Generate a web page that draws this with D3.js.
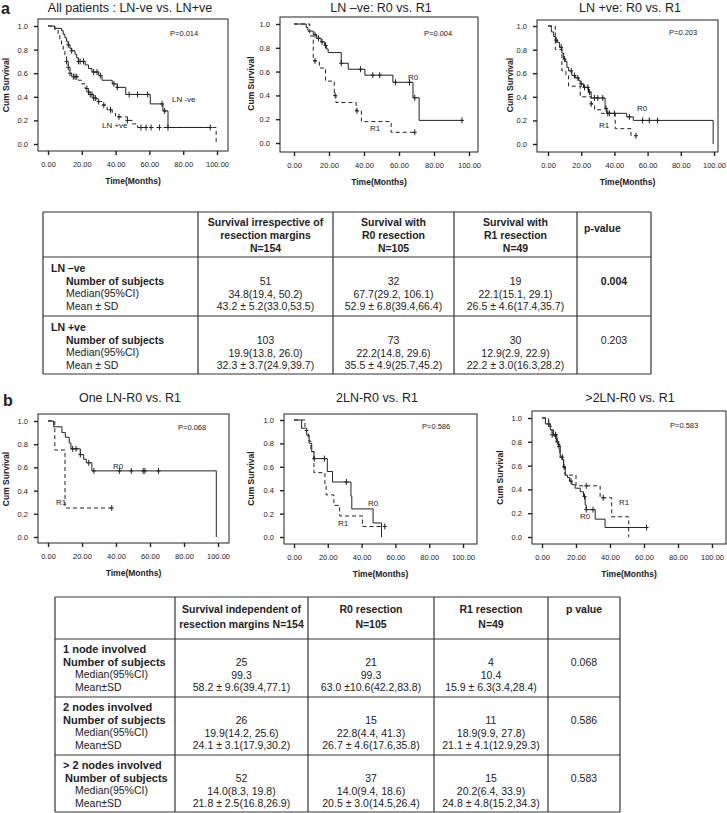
<!DOCTYPE html>
<html>
<head>
<meta charset="utf-8">
<script src="https://cdn.jsdelivr.net/npm/d3@7"></script>
<style>
  body { margin: 0; background: #fff; }
  text { font-family: "Liberation Sans", Arial, sans-serif; fill: #222; }
</style>
</head>
<body>
<div id="figure"></div>
<script>
// ---- survival curves, [time (months), cum survival] at each step ----
const a1NegSteps = [[0,1],[4,0.98],[8,0.96],[9,0.93],[10,0.90],[11,0.87],[12,0.84],[13,0.81],[14,0.79],[16,0.76],[17,0.73],[18,0.70],[22,0.67],[24,0.64],[26,0.61],[30,0.58],[32,0.54],[38,0.51],[41,0.48],[46,0.42],[60.5,0.34],[68,0.28],[71,0.14],[96,0.14]];
const a1NegCens = [12,14,18,19,21,27,29,31,39,41,48,53,59,67.5,69,96];
const a1PosSteps = [[0,1],[4,0.97],[6,0.93],[7,0.88],[8,0.84],[9,0.80],[10,0.75],[11,0.70],[12,0.65],[13,0.60],[14,0.57],[18,0.54],[20,0.51],[22,0.47],[24,0.44],[25,0.42],[27,0.39],[29,0.36],[32,0.33],[35,0.29],[38,0.26],[40,0.23],[47,0.20],[50,0.17],[53,0.14],[99.5,0]];
const a1PosCens = [11,12,13,15,16,17,23,24,25,26,27,28,30,33,37,42,47,55,58,61,66,71];

const a2R0Steps = [[0,1],[7,0.97],[8,0.94],[11,0.91],[13,0.88],[15.5,0.85],[17.5,0.82],[18.5,0.79],[19.5,0.76],[27,0.67],[31,0.62],[40.5,0.57],[56.5,0.51],[68,0.38],[71.5,0.19],[96,0.19]];
const a2R0Cens = [12,14,16,18,27,38,45,49,58,66,69,96];
const a2R1Steps = [[0,1],[9,0.90],[11,0.69],[14.5,0.63],[18,0.52],[23,0.40],[24,0.34],[35.5,0.27],[38.5,0.18],[55.5,0.09],[69,0.09]];
const a2R1Cens = [12,23.5,36,69];

const a3R0Steps = [[0,1],[2,0.95],[3.4,0.91],[4.4,0.88],[5.8,0.86],[7,0.82],[8.4,0.77],[9.4,0.72],[10.4,0.70],[11.4,0.65],[12.4,0.62],[14.4,0.58],[16.4,0.56],[18.4,0.54],[19.4,0.51],[21.4,0.48],[24.4,0.44],[26,0.39],[34.4,0.30],[35.4,0.26],[47.4,0.23],[51.4,0.20],[99.5,0]];
const a3R0Cens = [5,8,10,14,16,18,20,22,24,25,28,30,33,35,36,37,40,49,57,61,66];
const a3R1Steps = [[0,1],[4.4,0.80],[8.4,0.62],[10.8,0.58],[12.4,0.49],[19.4,0.40],[26,0.34],[28,0.29],[32,0.26],[40.5,0.13],[50,0.07],[53,0.07]];
const a3R1Cens = [26,53];

const b1R0Steps = [[0,1],[3.3,0.95],[8.2,0.90],[10.2,0.86],[12.5,0.81],[13.5,0.76],[19,0.71],[21,0.67],[22.5,0.64],[25.8,0.57],[99,0]];
const b1R0Cens = [14.5,16.5,19,24,27,42,49,56,57,65];
const b1R1Steps = [[0,1],[4,0.75],[10,0.25],[37.5,0.25]];
const b1R1Cens = [37.5];

const b2R0Steps = [[0,1],[4.5,0.93],[7.5,0.87],[9,0.80],[10.5,0.73],[11.8,0.67],[19.7,0.56],[22.8,0.47],[33.7,0.35],[34.2,0.24],[46.8,0.12],[51.8,0]];
const b2R0Cens = [12,18,31];
const b2R1Steps = [[0,1],[6.5,0.91],[8.5,0.82],[10,0.73],[11.8,0.55],[18.3,0.45],[19,0.36],[23.6,0.27],[27,0.18],[40.5,0.09],[53.7,0.09]];
const b2R1Cens = [53.7];

const b3R0Steps = [[0,1],[2,0.95],[4.9,0.90],[6.8,0.85],[8.4,0.80],[9.8,0.76],[10.7,0.68],[11.7,0.65],[12.7,0.59],[13.7,0.52],[15,0.50],[16.2,0.47],[17.6,0.44],[19.5,0.41],[22.5,0.38],[24.4,0.34],[25.4,0.27],[26,0.23],[31.3,0.15],[37.1,0.08],[61.5,0.08]];
const b3R0Cens = [4,8,9,10,13,17,25,26,30,61.5];
const b3R1Steps = [[0,1],[3.9,0.93],[5.9,0.86],[9,0.78],[10.5,0.67],[12.7,0.58],[13.5,0.52],[20,0.43],[34.2,0.33],[41,0.17],[51,0]];
const b3R1Cens = [6,8,12,26,36];

// ---- axis ticks and titles ----
const xTicks = [0,20,40,60,80,100];
const yTicks = [0,0.2,0.4,0.6,0.8,1.0];
const plotTitles = ["All patients : LN-ve vs. LN+ve", "LN \u2013ve: R0 vs. R1", "LN +ve: R0 vs. R1",
                    "One LN-R0 vs. R1", "2LN-R0 vs. R1", ">2LN-R0 vs. R1"];
const pValues = ["P=0.014", "P=0.004", "P=0.203", "P=0.068", "P=0.586", "P=0.583"];

// ---- table 1 ----
const t1Header = [["Survival irrespective of","resection margins","N=154"],["Survival with","R0 resection","N=105"],["Survival with","R1 resection","N=49"]];
const t1Groups = ["LN \u2013ve", "LN +ve"];
const t1Values = [
  [["51","34.8(19.4, 50.2)","43.2 \u00b1 5.2(33.0,53.5)"],["32","67.7(29.2, 106.1)","52.9 \u00b1 6.8(39.4,66.4)"],["19","22.1(15.1, 29.1)","26.5 \u00b1 4.6(17.4,35.7)"]],
  [["103","19.9(13.8, 26.0)","32.3 \u00b1 3.7(24.9,39.7)"],["73","22.2(14.8, 29.6)","35.5 \u00b1 4.9(25.7,45.2)"],["30","12.9(2.9, 22.9)","22.2 \u00b1 3.0(16.3,28.2)"]]
];
const t1P = ["0.004", "0.203"];

// ---- table 2 ----
const t2Header = [["Survival independent of","resection margins N=154"],["R0 resection","N=105"],["R1 resection","N=49"]];
const t2Groups = ["1 node involved", "2 nodes involved", "> 2 nodes involved"];
const t2Values = [
  [["25","99.3","58.2 \u00b1 9.6(39.4,77.1)"],["21","99.3","63.0 \u00b110.6(42.2,83.8)"],["4","10.4","15.9 \u00b1 6.3(3.4,28.4)"]],
  [["26","19.9(14.2, 25.6)","24.1 \u00b1 3.1(17.9,30.2)"],["15","22.8(4.4, 41.3)","26.7 \u00b1 4.6(17.6,35.8)"],["11","18.9(9.9, 27.8)","21.1 \u00b1 4.1(12.9,29.3)"]],
  [["52","14.0(8.3, 19.8)","21.8 \u00b1 2.5(16.8,26.9)"],["37","14.0(9.4, 18.6)","20.5 \u00b1 3.0(14.5,26.4)"],["15","20.2(6.4, 33.9)","24.8 \u00b1 4.8(15.2,34.3)"]]
];
const t2P = ["0.068", "0.586", "0.583"];

const width = 727;
const height = 813;

const svg = d3.select("#figure")
  .append("svg")
  .attr("width", width)
  .attr("height", height);

// step level at time t (censor marks sit on the curve)
function levelAt(steps, t) {
  let s = steps[0][1];
  for (const p of steps) { if (p[0] <= t) s = p[1]; }
  return s;
}

function drawKM(cfg, i) {
  const x = d3.scaleLinear().domain([0, 100]).range([cfg.x0, cfg.x100]);
  const y = d3.scaleLinear().domain([0, 1]).range([cfg.y0, cfg.y1]);
  const g = svg.append("g");

  g.append("text")
    .attr("x", cfg.titleX).attr("y", cfg.titleY)
    .attr("text-anchor", "middle")
    .style("font-size", "12.5px")
    .text(plotTitles[i]);

  g.append("rect")
    .attr("x", cfg.left).attr("y", cfg.top)
    .attr("width", cfg.right - cfg.left).attr("height", cfg.bottom - cfg.top)
    .attr("fill", "none").attr("stroke", "#222").attr("stroke-width", 1);

  const yAxis = g.append("g")
    .attr("transform", `translate(${cfg.left},0)`)
    .call(d3.axisLeft(y).tickValues(yTicks).tickFormat(d3.format(".1f")).tickSize(4).tickPadding(6));
  const xAxis = g.append("g")
    .attr("transform", `translate(0,${cfg.bottom})`)
    .call(d3.axisBottom(x).tickValues(xTicks).tickFormat(d3.format(".2f")).tickSize(4).tickPadding(7));
  [yAxis, xAxis].forEach(a => {
    a.select(".domain").remove();
    a.selectAll("line").attr("stroke", "#222").attr("stroke-width", 1.4);
    a.selectAll("text").style("font-size", "7.5px").style("font-family", "Liberation Sans, Arial").attr("fill", "#222");
  });

  g.append("text")
    .attr("x", (cfg.left + cfg.right) / 2).attr("y", cfg.bottom + 33)
    .attr("text-anchor", "middle")
    .style("font-size", "8.5px").style("font-weight", "bold")
    .text("Time(Months)");

  g.append("text")
    .attr("transform", `translate(${cfg.left - cfg.ylabOff},${(cfg.y0 + cfg.y1) / 2}) rotate(-90)`)
    .attr("text-anchor", "middle")
    .style("font-size", "8.5px").style("font-weight", "bold")
    .text("Cum Survival");

  g.append("text")
    .attr("x", cfg.pX).attr("y", cfg.pY)
    .style("font-size", "7.5px")
    .text(pValues[i]);

  const line = d3.line().x(d => x(d[0])).y(d => y(d[1])).curve(d3.curveStepAfter);

  cfg.curves.forEach(c => {
    g.append("path")
      .datum(c.steps)
      .attr("d", line)
      .attr("fill", "none")
      .attr("stroke", "#222")
      .attr("stroke-width", 1)
      .attr("stroke-dasharray", c.dashed ? "4,3" : null);

    g.selectAll(null)
      .data(c.cens)
      .enter()
      .append("path")
      .attr("d", t => {
        const cx = x(t), cy = y(levelAt(c.steps, t));
        return `M${cx},${cy - 3}V${cy + 3}M${cx - 2},${cy}H${cx + 2}`;
      })
      .attr("stroke", "#222")
      .attr("stroke-width", 1);

    g.append("text")
      .attr("x", c.labX).attr("y", c.labY)
      .style("font-size", "8px")
      .text(c.label);
  });
}

const plots = [
  { left: 38, right: 228, top: 19, bottom: 151, x0: 48, x100: 217, y0: 144, y1: 26, titleX: 130, titleY: 12, ylabOff: 29, pX: 170, pY: 36,
    curves: [{ steps: a1NegSteps, cens: a1NegCens, dashed: false, label: "LN -ve", labX: 172, labY: 102 },
             { steps: a1PosSteps, cens: a1PosCens, dashed: true, label: "LN +ve", labX: 102, labY: 128 }] },
  { left: 280, right: 478, top: 17, bottom: 152, x0: 294, x100: 469, y0: 143, y1: 24, titleX: 381, titleY: 12, ylabOff: 26, pX: 424, pY: 36,
    curves: [{ steps: a2R0Steps, cens: a2R0Cens, dashed: false, label: "R0", labX: 408, labY: 80 },
             { steps: a2R1Steps, cens: a2R1Cens, dashed: true, label: "R1", labX: 370, labY: 131 }] },
  { left: 537, right: 718, top: 20, bottom: 152, x0: 548, x100: 714, y0: 144, y1: 26, titleX: 630, titleY: 12, ylabOff: 24, pX: 669, pY: 35,
    curves: [{ steps: a3R0Steps, cens: a3R0Cens, dashed: false, label: "R0", labX: 637, labY: 111 },
             { steps: a3R1Steps, cens: a3R1Cens, dashed: true, label: "R1", labX: 599, labY: 128 }] },
  { left: 38, right: 229, top: 414, bottom: 543, x0: 48, x100: 218, y0: 537, y1: 421, titleX: 130, titleY: 402, ylabOff: 29, pX: 178, pY: 430,
    curves: [{ steps: b1R0Steps, cens: b1R0Cens, dashed: false, label: "R0", labX: 113, labY: 469 },
             { steps: b1R1Steps, cens: b1R1Cens, dashed: true, label: "R1", labX: 56, labY: 505 }] },
  { left: 284, right: 477, top: 414, bottom: 544, x0: 294, x100: 463, y0: 537, y1: 420, titleX: 377, titleY: 402, ylabOff: 30, pX: 422, pY: 429,
    curves: [{ steps: b2R0Steps, cens: b2R0Cens, dashed: false, label: "R0", labX: 368, labY: 506 },
             { steps: b2R1Steps, cens: b2R1Cens, dashed: true, label: "R1", labX: 338, labY: 526 }] },
  { left: 532, right: 726, top: 411, bottom: 544, x0: 542, x100: 712, y0: 537, y1: 418, titleX: 630, titleY: 402, ylabOff: 29, pX: 670, pY: 428,
    curves: [{ steps: b3R0Steps, cens: b3R0Cens, dashed: false, label: "R0", labX: 580, labY: 519 },
             { steps: b3R1Steps, cens: b3R1Cens, dashed: true, label: "R1", labX: 619, labY: 505 }] }
];

plots.forEach((p, i) => drawKM(p, i));

// panel letters
svg.append("text").attr("x", 1).attr("y", 14).style("font-size", "16px").style("font-weight", "bold").text("a");
svg.append("text").attr("x", 3).attr("y", 406).style("font-size", "16px").style("font-weight", "bold").text("b");

// ---- tables ----
function drawGrid(cols, rows) {
  const g = svg.append("g").attr("stroke", "#333").attr("stroke-width", 1.2);
  cols.forEach(cx => g.append("line").attr("x1", cx).attr("x2", cx).attr("y1", rows[0]).attr("y2", rows[rows.length - 1]));
  rows.forEach(ry => g.append("line").attr("x1", cols[0]).attr("x2", cols[cols.length - 1]).attr("y1", ry).attr("y2", ry));
}

function addText(x, y, str, opts) {
  const t = svg.append("text")
    .attr("x", x).attr("y", y)
    .attr("text-anchor", opts.anchor || "start")
    .style("font-size", (opts.size || 10.5) + "px")
    .text(str);
  if (opts.bold) t.style("font-weight", "bold");
  return t;
}

// table 1
const t1Cols = [43, 198, 333, 454, 577, 651];
const t1Rows = [212, 257, 316, 374];
drawGrid(t1Cols, t1Rows);
t1Header.forEach((lines, c) => {
  const cx = (t1Cols[c + 1] + t1Cols[c + 2]) / 2;
  lines.forEach((s, k) => addText(cx, 226 + k * 13, s, { anchor: "middle", bold: true }));
});
addText(584, 232, "p-value", { bold: true });
t1Groups.forEach((grp, r) => {
  const top = t1Rows[r + 1];
  addText(51, top + 15, grp, { bold: true });
  addText(66, top + 28, "Number of subjects", { bold: true });
  addText(66, top + 40, "Median(95%CI)", {});
  addText(66, top + 53, "Mean \u00b1 SD", {});
  t1Values[r].forEach((vals, c) => {
    const cx = (t1Cols[c + 1] + t1Cols[c + 2]) / 2;
    vals.forEach((s, k) => addText(cx, top + 28 + k * 12.5, s, { anchor: "middle" }));
  });
  addText((t1Cols[4] + t1Cols[5]) / 2, top + 28, t1P[r], { anchor: "middle", bold: r === 0 });
});

// table 2
const t2Cols = [55, 175, 308, 434, 548, 620];
const t2Rows = [597, 639, 697, 755, 812];
drawGrid(t2Cols, t2Rows);
t2Header.forEach((lines, c) => {
  const cx = (t2Cols[c + 1] + t2Cols[c + 2]) / 2;
  lines.forEach((s, k) => addText(cx, 613 + k * 15, s, { anchor: "middle", bold: true, size: 10.5 }));
});
addText((t2Cols[4] + t2Cols[5]) / 2, 613, "p value", { anchor: "middle", bold: true, size: 10.5 });
t2Groups.forEach((grp, r) => {
  const top = t2Rows[r + 1];
  addText(63, top + 14, grp, { bold: true, size: 11 });
  addText(r === 2 ? 65 : 63, top + 27, "Number of subjects", { bold: true, size: 11 });
  addText(75, top + 39, "Median(95%CI)", {});
  addText(75, top + 52, "Mean\u00b1SD", {});
  t2Values[r].forEach((vals, c) => {
    const cx = (t2Cols[c + 1] + t2Cols[c + 2]) / 2;
    vals.forEach((s, k) => addText(cx, top + 27 + k * 12.5, s, { anchor: "middle" }));
  });
  addText((t2Cols[4] + t2Cols[5]) / 2, top + 27, t2P[r], { anchor: "middle" });
});
</script>
</body>
</html>
